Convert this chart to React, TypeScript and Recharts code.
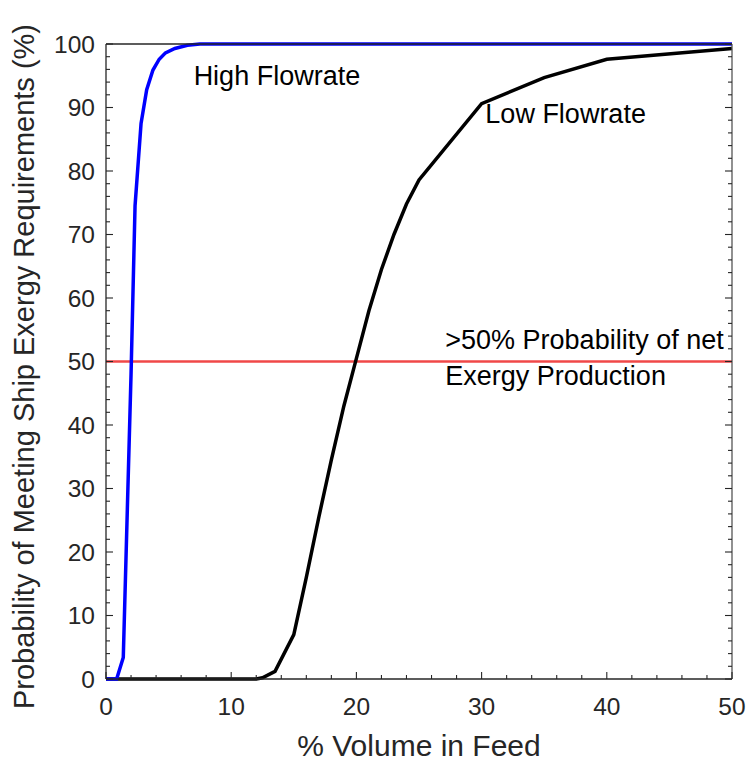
import React from 'react';
import { LineChart, Line, XAxis, YAxis, ReferenceLine, ReferenceDot, Label } from 'recharts';

// High flowrate case: % volume in feed vs probability (%)
const highVolume = [0, 0.85, 1.38, 2.0, 2.32, 2.8, 3.25, 3.75, 4.25, 4.75, 5.5, 6.5, 7.5, 50];
const highProb = [0, 0, 3.4, 48, 74.5, 87.5, 92.8, 95.9, 97.6, 98.6, 99.3, 99.8, 100, 100];

// Low flowrate case
const lowVolume = [0, 12, 12.5, 13.5, 15, 16, 17, 18, 19, 20, 21, 22, 23, 24, 25, 30, 35, 40, 50];
const lowProb = [0, 0, 0.2, 1.2, 7, 16, 25.5, 34.5, 43, 50.5, 58, 64.5, 70, 74.8, 78.6, 90.6, 94.7, 97.6, 99.3];

const threshold = 50;

// Tick positions (major every 10, minor every 2)
const xTicks = [0, 2, 4, 6, 8, 10, 12, 14, 16, 18, 20, 22, 24, 26, 28, 30, 32, 34, 36, 38, 40, 42, 44, 46, 48, 50];
const yTicks = [0, 2, 4, 6, 8, 10, 12, 14, 16, 18, 20, 22, 24, 26, 28, 30, 32, 34, 36, 38, 40, 42, 44, 46, 48, 50, 52, 54, 56, 58, 60, 62, 64, 66, 68, 70, 72, 74, 76, 78, 80, 82, 84, 86, 88, 90, 92, 94, 96, 98, 100];

// Text annotations placed in data coordinates (left edge, vertical middle)
const notes = [
  { v: 7, p: 95, lines: ['High Flowrate'] },
  { v: 30.3, p: 89, lines: ['Low Flowrate'] },
  { v: 27.1, p: 50, lines: ['>50% Probability of net', 'Exergy Production'] },
];

const highRows = highVolume.map((v, i) => ({ v, p: highProb[i] }));
const lowRows = lowVolume.map((v, i) => ({ v, p: lowProb[i] }));

// Layout
const CHART_W = 749;
const CHART_H = 763;
const MARGIN = { top: 43, right: 16, bottom: 0, left: 0 };
const Y_AXIS_W = 106;
const RIGHT_AXIS_W = 1;
const PLOT_W = CHART_W - MARGIN.left - MARGIN.right - Y_AXIS_W - RIGHT_AXIS_W;

const FONT = '"Liberation Sans", Arial, Helvetica, sans-serif';
const INK = '#262626';
const TICK_FS = 24.5;
const MAJOR = 7;
const MINOR = 4;

const isMajor = (val: number) => val % 10 === 0;

const tickPath = (x: number, y: number, dx: number, dy: number) => `M${x},${y}L${x + dx},${y + dy}`;

const BottomTick = (props: any) => {
  const x = Number(props.x);
  const y = Number(props.y);
  const major = isMajor(props.payload.value);
  return (
    <g>
      <path d={tickPath(x, y, 0, -(major ? MAJOR : MINOR))} stroke={INK} strokeWidth={1.1} fill="none" />
      {major && (
        <text x={x} y={y + 36} textAnchor="middle" fontSize={TICK_FS} fontFamily={FONT} fill={INK}>
          {props.payload.value}
        </text>
      )}
    </g>
  );
};

const TopTick = (props: any) => {
  const x = Number(props.x);
  const y = Number(props.y);
  const major = isMajor(props.payload.value);
  return <path d={tickPath(x, y, 0, major ? MAJOR : MINOR)} stroke={INK} strokeWidth={1.1} fill="none" />;
};

// Left ticks with labels, plus the matching inward ticks on the right edge of the box
const LeftTick = (props: any) => {
  const x = Number(props.x);
  const y = Number(props.y);
  const major = isMajor(props.payload.value);
  const len = major ? MAJOR : MINOR;
  return (
    <g>
      <path d={tickPath(x, y, len, 0)} stroke={INK} strokeWidth={1.1} fill="none" />
      <path d={tickPath(x + PLOT_W, y, -len, 0)} stroke={INK} strokeWidth={1.1} fill="none" />
      {major && (
        <text x={x - 11} y={y + 8.5} textAnchor="end" fontSize={TICK_FS} fontFamily={FONT} fill={INK}>
          {props.payload.value}
        </text>
      )}
    </g>
  );
};

const XTitle = (props: any) => {
  const vb = props.viewBox;
  return (
    <text x={vb.x + vb.width / 2} y={vb.y + 77} textAnchor="middle" fontSize={30} fontFamily={FONT} fill={INK}>
      % Volume in Feed
    </text>
  );
};

const YTitle = (props: any) => {
  const vb = props.viewBox;
  const cx = vb.x + 34;
  const cy = vb.y + vb.height / 2 + 5;
  return (
    <text
      x={cx}
      y={cy}
      transform={`rotate(-90 ${cx} ${cy})`}
      textAnchor="middle"
      fontSize={29}
      fontFamily={FONT}
      fill={INK}
    >
      Probability of Meeting Ship Exergy Requirements (%)
    </text>
  );
};

const makeNote = (lines: string[]) => (props: any) => {
  const vb = props.viewBox;
  const lh = 36;
  const n = lines.length;
  const top = vb.y - ((n - 1) * lh) / 2 + 9 - (n - 1) * 4;
  return (
    <text fontSize={27} fontFamily={FONT} fill="#000">
      {lines.map((t, i) => (
        <tspan key={i} x={vb.x} y={top + i * lh}>
          {t}
        </tspan>
      ))}
    </text>
  );
};

export default function App() {
  return (
    <div style={{ position: 'absolute', left: 0, top: 0, background: '#fff' }}>
      <LineChart width={CHART_W} height={CHART_H} margin={MARGIN}>
        <XAxis
          type="number"
          dataKey="v"
          domain={[0, 50]}
          ticks={xTicks}
          interval={0}
          height={84}
          tickSize={0}
          tickMargin={0}
          tickLine={false}
          tick={BottomTick}
          axisLine={{ stroke: INK, strokeWidth: 1.3 }}
        >
          <Label content={XTitle} />
        </XAxis>
        <XAxis
          xAxisId="top"
          orientation="top"
          type="number"
          dataKey="v"
          domain={[0, 50]}
          ticks={xTicks}
          interval={0}
          height={1}
          tickSize={0}
          tickMargin={0}
          tickLine={false}
          tick={TopTick}
          axisLine={{ stroke: INK, strokeWidth: 1.3 }}
        />
        <YAxis
          type="number"
          domain={[0, 100]}
          ticks={yTicks}
          interval={0}
          width={Y_AXIS_W}
          tickSize={0}
          tickMargin={0}
          tickLine={false}
          tick={LeftTick}
          axisLine={{ stroke: INK, strokeWidth: 1.3 }}
        >
          <Label content={YTitle} />
        </YAxis>
        <YAxis
          yAxisId="right"
          orientation="right"
          type="number"
          domain={[0, 100]}
          width={RIGHT_AXIS_W}
          tick={false}
          tickLine={false}
          axisLine={{ stroke: '#555', strokeWidth: 1.3 }}
        />
        <ReferenceLine y={threshold} stroke="#f04848" strokeWidth={2.6} />
        <Line
          data={lowRows}
          dataKey="p"
          type="linear"
          stroke="#000"
          strokeWidth={3.5}
          dot={false}
          isAnimationActive={false}
        />
        <Line
          data={highRows}
          dataKey="p"
          type="linear"
          stroke="#0000ff"
          strokeWidth={3.5}
          dot={false}
          isAnimationActive={false}
        />
        {notes.map((n, i) => (
          <ReferenceDot key={i} x={n.v} y={n.p} r={0} fill="none" stroke="none">
            <Label content={makeNote(n.lines)} />
          </ReferenceDot>
        ))}
      </LineChart>
    </div>
  );
}
